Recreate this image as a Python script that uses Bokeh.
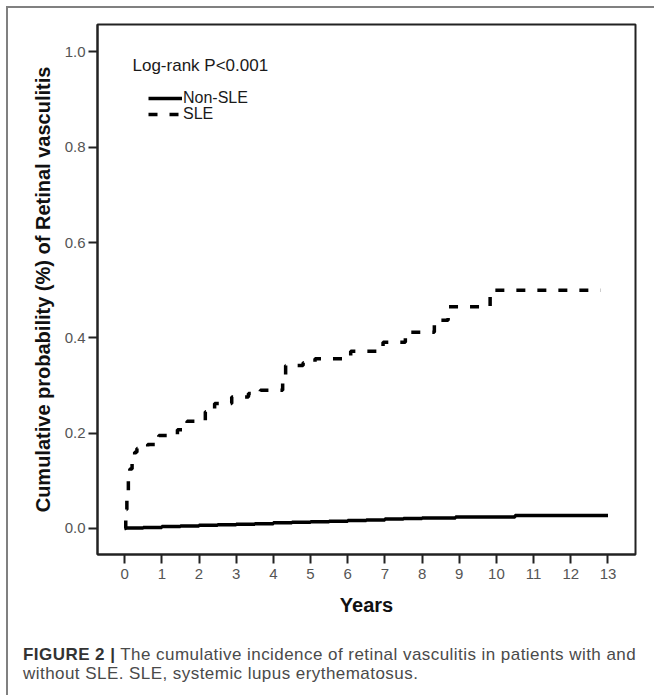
from bokeh.plotting import figure
from bokeh.models import Range1d, FixedTicker, Label, Legend, LegendItem, Div
from bokeh.layouts import column
from bokeh.embed import file_html
from bokeh.resources import INLINE

# ---- data ----
x_ticks = list(range(0, 14))
y_ticks = [0.0, 0.2, 0.4, 0.6, 0.8, 1.0]
y_tick_labels = ["0.0", "0.2", "0.4", "0.6", "0.8", "1.0"]

sle_years = [0, 0.03, 0.06, 0.10, 0.14, 0.20, 0.27, 0.33, 0.62, 0.92, 1.42, 1.68,
             2.17, 2.42, 2.88, 3.33, 3.65, 4.25, 4.33, 4.80, 5.12, 6.08, 6.95,
             7.55, 8.33, 8.70, 9.83, 12.8]
sle_cum = [0, 0.04, 0.08, 0.105, 0.125, 0.145, 0.160, 0.168, 0.176, 0.195, 0.207,
           0.225, 0.245, 0.262, 0.276, 0.283, 0.290, 0.310, 0.342, 0.348, 0.356,
           0.372, 0.391, 0.412, 0.437, 0.465, 0.500, 0.500]

non_years = [0, 0.5, 1, 1.5, 2, 2.5, 3, 3.5, 4, 4.5, 5, 5.5, 6, 6.5, 7, 7.5, 8,
             8.9, 10.5, 13]
non_cum = [0.001, 0.002, 0.004, 0.005, 0.007, 0.008, 0.009, 0.010, 0.012, 0.013,
           0.014, 0.015, 0.017, 0.018, 0.020, 0.021, 0.022, 0.024, 0.027, 0.027]

FONT = "Liberation Sans"

p = figure(width=646, height=617, output_backend="svg", toolbar_location=None,
           x_range=Range1d(-0.73, 13.74), y_range=Range1d(-0.0546, 1.0575),
           min_border_left=89, min_border_right=19, min_border_top=16,
           min_border_bottom=71)
p.grid.visible = False
p.outline_line_color = "#222222"
p.outline_line_width = 2
p.background_fill_color = "white"

for ax in (p.xaxis[0], p.yaxis[0]):
    ax.axis_line_color = "#222222"
    ax.axis_line_width = 2
    ax.major_tick_line_color = "#222222"
    ax.major_tick_line_width = 2
    ax.major_tick_in = 0
    ax.major_tick_out = 9
    ax.minor_tick_line_color = None
    ax.major_label_text_font = FONT
    ax.major_label_text_font_size = "15px"
    ax.major_label_text_color = "#555555"
    ax.axis_label_text_font = FONT
    ax.axis_label_text_font_size = "20px"
    ax.axis_label_text_font_style = "bold"
    ax.axis_label_text_color = "#111111"

p.xaxis.ticker = FixedTicker(ticks=x_ticks)
p.xaxis.major_label_standoff = 5
p.xaxis.axis_label = "Years"
p.xaxis.axis_label_standoff = 12

p.yaxis.ticker = FixedTicker(ticks=y_ticks)
p.yaxis.major_label_overrides = {t: l for t, l in zip(y_ticks, y_tick_labels)}
p.yaxis.major_label_standoff = 3
p.yaxis.axis_label = "Cumulative probability (%) of Retinal vasculitis"
p.yaxis.axis_label_standoff = 8

r_non = p.step(non_years, non_cum, mode="after", line_color="black", line_width=3.5)
r_sle = p.step(sle_years, sle_cum, mode="after", line_color="black", line_width=3.5,
               line_dash="9 12")

p.add_layout(Label(x=35, y=489, x_units="screen", y_units="screen",
                   text="Log-rank P<0.001", text_font=FONT, text_font_size="17px",
                   text_baseline="middle", text_align="left", text_color="#1a1a1a"))

def make_legend(label, rend, loc):
    return Legend(items=[LegendItem(label=label, renderers=[rend])], location=loc,
                  border_line_color=None, background_fill_alpha=0, padding=0,
                  margin=0, spacing=0, glyph_width=34, glyph_height=22,
                  label_height=22, label_standoff=1, label_text_font=FONT,
                  label_text_font_size="16px", label_text_color="#1a1a1a")

p.add_layout(make_legend("Non-SLE", r_non, (51, 445.5)))
p.add_layout(make_legend("SLE", r_sle, (51, 429.5)))

caption_bold = "FIGURE 2 |"
caption_line1 = "The cumulative incidence of retinal vasculitis in patients with and"
caption_line2 = "without SLE. SLE, systemic lupus erythematosus."

cap = Div(
    text=(f"<div style=\"font-family:'Liberation Sans';font-size:17px;line-height:19px;"
          f"letter-spacing:0.45px;color:#4a4a4a;white-space:nowrap;"
          f"padding:20px 0 0 15px;\">"
          f"<b style=\"color:#333333\">{caption_bold}</b> {caption_line1}<br>"
          f"{caption_line2}</div>"),
    width=646, height=70, margin=(0, 0, 0, 0))

layout = column(p, cap, spacing=0,
                styles={"margin": "6px 0 0 6px",
                        "border-left": "2px solid #808080",
                        "border-top": "2px solid #808080"})

open("out.html", "w").write(file_html(layout, INLINE))
